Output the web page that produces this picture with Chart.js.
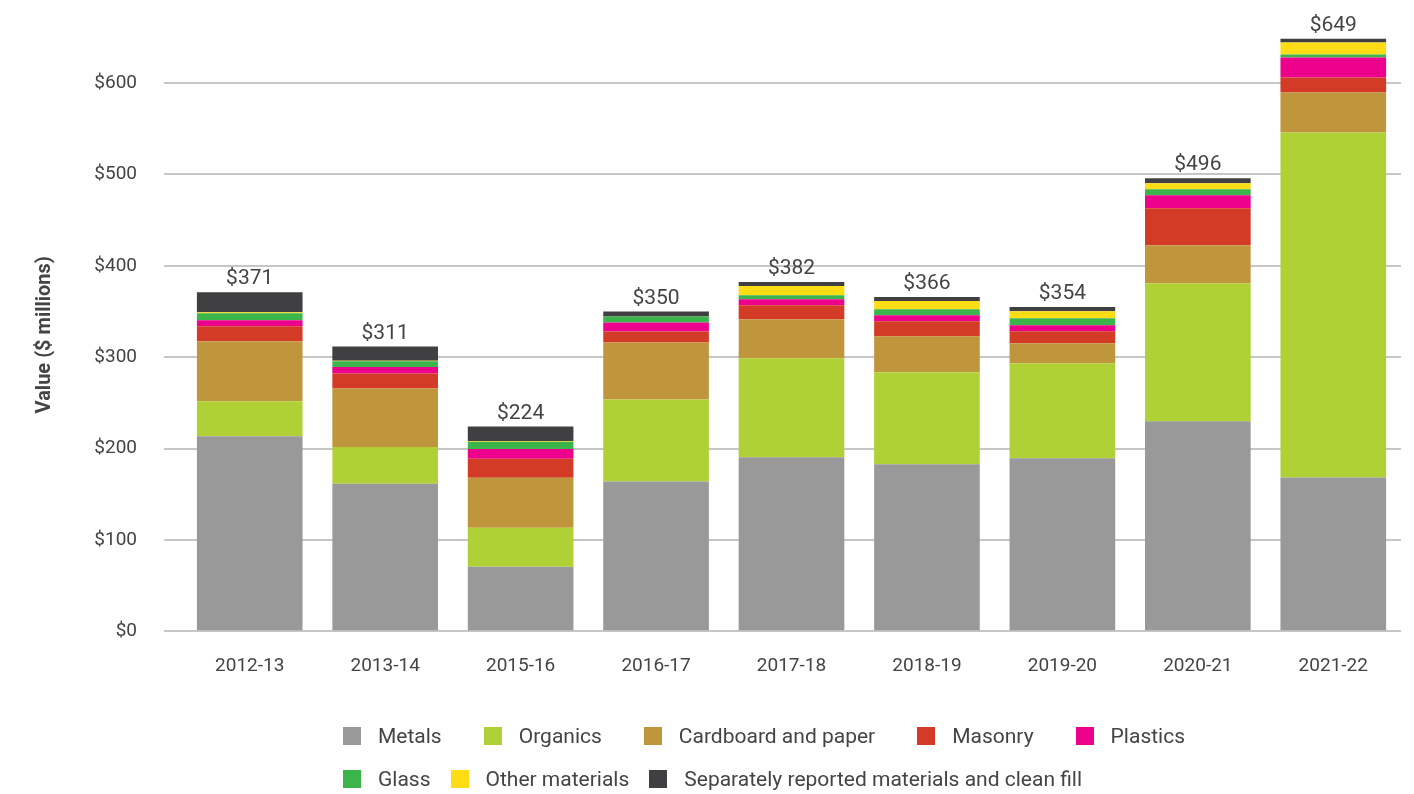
<!DOCTYPE html>
<html>
<head>
<meta charset="utf-8">
<script src="https://cdn.jsdelivr.net/npm/chart.js@4"></script>
<style>
  body { margin: 0; background: #fff; }
  #wrap { position: relative; width: 1414px; height: 794px; }
  #legend { position: absolute; left: 343px; top: 722px; font-family: Roboto, sans-serif; font-size: 21px; color: #444; }
  .row { display: flex; align-items: center; height: 28px; margin-bottom: 15px; white-space: nowrap; }
  .item { display: flex; align-items: center; }
  .box { width: 18px; height: 18px; margin-right: 17px; }
</style>
</head>
<body>
<div id="wrap">
  <canvas id="myChart" width="1414" height="794"></canvas>
  <div id="legend"></div>
</div>
<script>
'use strict';

// years on the x axis
let years = ['2012-13', '2013-14', '2015-16', '2016-17', '2017-18', '2018-19', '2019-20', '2020-21', '2021-22'];
// totals printed above each bar
let totals = [371, 311, 224, 350, 382, 366, 354, 496, 649];

// $ millions
let metals = [213.5, 161.5, 70.5, 163.8, 190.5, 182.9, 189.4, 229.9, 168.4];
let organics = [38.3, 40.2, 42.7, 89.8, 108.4, 100.7, 104.0, 151.1, 377.7];
let cardboard = [65.7, 63.9, 54.7, 62.4, 42.7, 39.4, 21.9, 41.6, 43.8];
let masonry = [16.4, 16.4, 20.8, 12.0, 15.3, 16.4, 13.1, 40.5, 16.4];
let plastics = [6.6, 7.3, 10.9, 9.9, 6.6, 6.6, 6.6, 14.2, 21.9];
let glass = [7.7, 6.2, 7.7, 6.6, 4.4, 6.6, 7.7, 6.6, 3.3];
let other = [1.0, 0.5, 1.0, 0, 9.9, 8.8, 7.7, 6.6, 13.1];
let separate = [21.9, 15.7, 15.7, 5.5, 4.4, 4.4, 4.4, 5.5, 4.4];

let yTicks = [0, 100, 200, 300, 400, 500, 600];

const datasets = [
  { label: 'Metals', data: metals, backgroundColor: '#999999' },
  { label: 'Organics', data: organics, backgroundColor: '#b0d136' },
  { label: 'Cardboard and paper', data: cardboard, backgroundColor: '#c0963c' },
  { label: 'Masonry', data: masonry, backgroundColor: '#d33b27' },
  { label: 'Plastics', data: plastics, backgroundColor: '#ec008c' },
  { label: 'Glass', data: glass, backgroundColor: '#3bb54a' },
  { label: 'Other materials', data: other, backgroundColor: '#ffdd15' },
  { label: 'Separately reported materials and clean fill', data: separate, backgroundColor: '#404042' }
];
datasets.forEach(d => {
  d.borderWidth = 0;
  d.barPercentage = 0.78;
  d.categoryPercentage = 1;
});

// total labels on top of the stacks
const totalLabels = {
  id: 'totalLabels',
  afterDatasetsDraw(chart) {
    const ctx = chart.ctx;
    const y = chart.scales.y;
    const last = chart.getDatasetMeta(datasets.length - 1);
    ctx.save();
    ctx.font = '21px Roboto, sans-serif';
    ctx.fillStyle = '#444';
    ctx.textAlign = 'center';
    ctx.textBaseline = 'middle';
    for (let i = 0; i < years.length; i++) {
      let sum = 0;
      datasets.forEach(d => { sum += d.data[i]; });
      ctx.fillText('$' + totals[i], last.data[i].x, y.getPixelForValue(sum) - 13);
    }
    ctx.restore();
  }
};

const config = {
  type: 'bar',
  data: { labels: years, datasets: datasets },
  plugins: [totalLabels],
  options: {
    responsive: false,
    animation: false,
    layout: { padding: { top: 0, right: 13, bottom: 100, left: 0 } },
    plugins: { legend: { display: false }, tooltip: { enabled: false } },
    scales: {
      x: {
        stacked: true,
        grid: { display: false },
        border: { display: false },
        ticks: { color: '#444', font: { family: 'Roboto', size: 19 }, padding: 16 }
      },
      y: {
        stacked: true,
        min: 0,
        max: 649,
        afterBuildTicks(scale) {
          scale.ticks = yTicks.map(v => ({ value: v }));
        },
        afterFit(scale) { scale.width = 182; },
        border: { display: false },
        grid: { color: '#c6c6c6', lineWidth: 2, tickLength: 18, drawTicks: true },
        ticks: {
          color: '#444',
          font: { family: 'Roboto', size: 19 },
          padding: 27,
          callback: v => '$' + v
        },
        title: {
          display: true,
          text: 'Value ($ millions)',
          color: '#444',
          font: { family: 'Roboto', size: 20, weight: 'bold' },
          padding: { top: 33, bottom: 0 }
        }
      }
    }
  }
};

const myChart = new Chart(document.getElementById('myChart'), config);

// html legend in two rows like the original
let legend = document.getElementById('legend');
let rows = [[0, 1, 2, 3, 4], [5, 6, 7]];
let gaps = [42, 20];
rows.forEach((r, ri) => {
  let row = document.createElement('div');
  row.className = 'row';
  r.forEach((idx, k) => {
    let item = document.createElement('div');
    item.className = 'item';
    if (k > 0) item.style.marginLeft = gaps[ri] + 'px';
    let box = document.createElement('span');
    box.className = 'box';
    box.style.background = datasets[idx].backgroundColor;
    let txt = document.createElement('span');
    txt.textContent = datasets[idx].label;
    item.appendChild(box);
    item.appendChild(txt);
    row.appendChild(item);
  });
  legend.appendChild(row);
});
</script>
</body>
</html>
